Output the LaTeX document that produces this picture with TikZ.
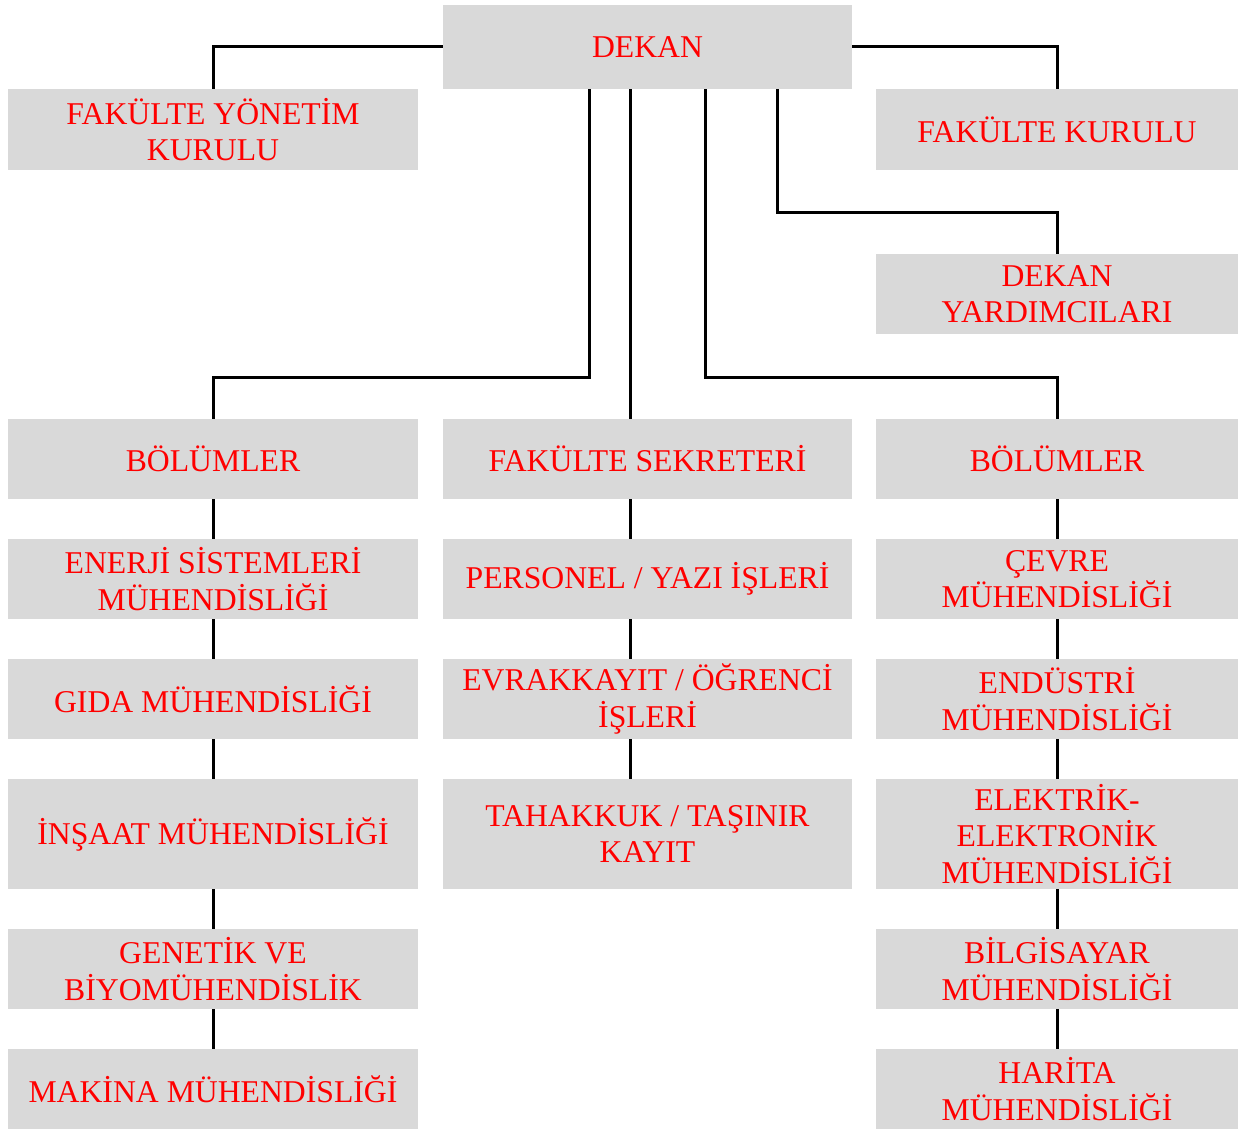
\documentclass[tikz,border=0pt]{standalone}
\usepackage{fontspec}
\setmainfont{Liberation Serif}
\definecolor{boxgray}{HTML}{D9D9D9}
\definecolor{txtred}{HTML}{FF0000}
\begin{document}
\begin{tikzpicture}[x=1pt,y=-1pt,
  box/.style={fill=boxgray, draw=none, inner sep=0pt, align=center, text=txtred,
    font=\fontsize{31.7}{36.5}\selectfont},
  conn/.style={draw=black, line width=3pt, line join=miter}]
\useasboundingbox (0,0) rectangle (1240,1129);
% boxes: centre x, centre y, width, height
\newcommand{\mybox}[6]{\node[box, minimum width=#4pt, minimum height=#5pt] (#1) at (#2,#3) {#6};}
\mybox{dekan}{647.5}{47}{409}{84}{DEKAN}
\mybox{fyk}{213}{129.5}{410}{81}{FAKÜLTE YÖNETİM\\KURULU}
\mybox{fk}{1057}{129.5}{362}{81}{FAKÜLTE KURULU}
\mybox{dy}{1057}{294}{362}{80}{DEKAN\\YARDIMCILARI}
% row 1
\mybox{bl}{213}{459}{410}{80}{BÖLÜMLER}
\mybox{fs}{647.5}{459}{409}{80}{FAKÜLTE SEKRETERİ}
\mybox{br}{1057}{459}{362}{80}{BÖLÜMLER}
% row 2
\mybox{en}{213}{579}{410}{80}{ENERJİ SİSTEMLERİ\\MÜHENDİSLİĞİ}
\mybox{per}{647.5}{579}{409}{80}{PERSONEL / YAZI İŞLERİ}
\mybox{cev}{1057}{579}{362}{80}{ÇEVRE\\MÜHENDİSLİĞİ}
% row 3
\mybox{gida}{213}{699}{410}{80}{GIDA MÜHENDİSLİĞİ}
\mybox{evr}{647.5}{699}{409}{80}{EVRAKKAYIT / ÖĞRENCİ\\İŞLERİ}
\mybox{end}{1057}{699}{362}{80}{ENDÜSTRİ\\MÜHENDİSLİĞİ}
% row 4
\mybox{ins}{213}{834}{410}{110}{İNŞAAT MÜHENDİSLİĞİ}
\mybox{tah}{647.5}{834}{409}{110}{TAHAKKUK / TAŞINIR\\KAYIT}
\mybox{ele}{1057}{834}{362}{110}{ELEKTRİK-\\ELEKTRONİK\\MÜHENDİSLİĞİ}
% row 5
\mybox{gen}{213}{969}{410}{80}{GENETİK VE\\BİYOMÜHENDİSLİK}
\mybox{bil}{1057}{969}{362}{80}{BİLGİSAYAR\\MÜHENDİSLİĞİ}
% row 6
\mybox{mak}{213}{1089}{410}{80}{MAKİNA MÜHENDİSLİĞİ}
\mybox{har}{1057}{1089}{362}{80}{HARİTA\\MÜHENDİSLİĞİ}
% helper levels
\coordinate (hdy) at (0,212);
\coordinate (hbl) at (0,377);
% connectors from DEKAN
\draw[conn] (dekan.west) -| (fyk.north);
\draw[conn] (dekan.east) -| (fk.north);
\draw[conn] ([xshift=129.5pt]dekan.south) |- (dy.north |- hdy) -- (dy.north);
\draw[conn] ([xshift=-58.5pt]dekan.south) |- (bl.north |- hbl) -- (bl.north);
\draw[conn] ([xshift=-17.5pt]dekan.south) -- ([xshift=-17.5pt]fs.north);
\draw[conn] ([xshift=57.5pt]dekan.south) |- (br.north |- hbl) -- (br.north);
% left column
\draw[conn] (bl.south) -- (en.north);
\draw[conn] (en.south) -- (gida.north);
\draw[conn] (gida.south) -- (ins.north);
\draw[conn] (ins.south) -- (gen.north);
\draw[conn] (gen.south) -- (mak.north);
% middle column
\draw[conn] ([xshift=-17.5pt]fs.south) -- ([xshift=-17.5pt]per.north);
\draw[conn] ([xshift=-17.5pt]per.south) -- ([xshift=-17.5pt]evr.north);
\draw[conn] ([xshift=-17.5pt]evr.south) -- ([xshift=-17.5pt]tah.north);
% right column
\draw[conn] (br.south) -- (cev.north);
\draw[conn] (cev.south) -- (end.north);
\draw[conn] (end.south) -- (ele.north);
\draw[conn] (ele.south) -- (bil.north);
\draw[conn] (bil.south) -- (har.north);
\end{tikzpicture}
\end{document}
